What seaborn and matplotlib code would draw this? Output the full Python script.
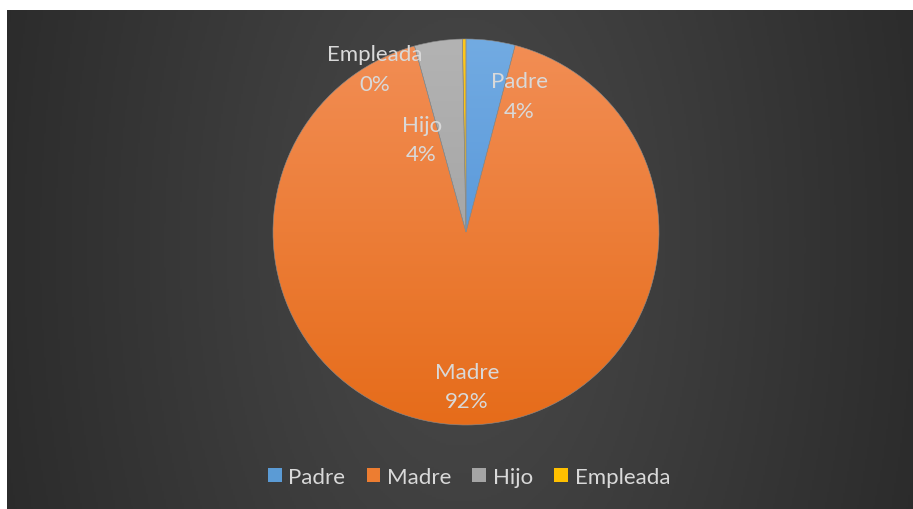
import numpy as np
import matplotlib
matplotlib.use("Agg")
import matplotlib.pyplot as plt
from matplotlib.colors import LinearSegmentedColormap
from matplotlib.patches import Patch
import seaborn as sns

# ---- data ----
categories = ["Padre", "Madre", "Hijo", "Empleada"]
values = [4.1, 91.6, 4.0, 0.3]
pct_labels = ["4%", "92%", "4%", "0%"]

# ---- style ----
sns.set_theme(style="white")
plt.rcParams["font.family"] = ["Lato", "DejaVu Sans"]

top_colors = ["#72abe2", "#f28e55", "#b3b3b3", "#ffc81a"]
bot_colors = ["#4589d4", "#e66c1a", "#9a9a9a", "#f0b400"]
base_colors = ["#5b9bd5", "#ed7d31", "#a5a5a5", "#ffc000"]
text_color = "#d9d9d9"

W, H = 913, 510
fig = plt.figure(figsize=(W / 100, H / 100), dpi=100)
fig.patch.set_facecolor("white")

# background panel with radial gradient
bg = fig.add_axes([7 / W, 0, (W - 7) / W, (H - 11) / H])
bg.set_axis_off()
ny, nx = 250, 450
yy, xx = np.mgrid[0:ny, 0:nx]
cx, cy = nx * 0.5, ny * 0.47
d = np.sqrt(((xx - cx) / (nx * 0.62)) ** 2 + ((yy - cy) / (ny * 0.62 * 906 / 499)) ** 2 * 0.3)
d = np.clip(d, 0, 1)
grad_bg = LinearSegmentedColormap.from_list("bg", ["#4a4a4a", "#262626"])
bg.imshow(d, cmap=grad_bg, aspect="auto", extent=[0, 1, 0, 1], vmin=0, vmax=1)
bg.set_xlim(0, 1)
bg.set_ylim(0, 1)

# pie axes
cxp, cyp, r = 466, 233, 193
ax = fig.add_axes([(cxp - r) / W, (H - cyp - r) / H, 2 * r / W, 2 * r / H])
ax.set_axis_off()
wedges, _ = ax.pie(values, colors=base_colors, startangle=90, counterclock=False,
                   radius=1, wedgeprops=dict(linewidth=0.4, edgecolor="#8c8c8c"))

gy = np.linspace(0, 1, 256).reshape(-1, 1)
for w, tc, bc in zip(wedges, top_colors, bot_colors):
    cm = LinearSegmentedColormap.from_list("g", [tc, bc])
    im = ax.imshow(gy, cmap=cm, extent=[-1, 1, -1, 1], origin="upper", aspect="auto",
                   zorder=w.get_zorder() + 0.1)
    im.set_clip_path(w)
for w in wedges:
    w.set_facecolor("none")
    w.set_zorder(5)
ax.set_xlim(-1, 1)
ax.set_ylim(-1, 1)

# data labels (positions in axes data coords)
label_pos = {
    "Padre": (0.275, 0.705),
    "Madre": (0.005, -0.80),
    "Hijo": (-0.23, 0.48),
    "Empleada": (-0.475, 0.845),
}
for cat, pct in zip(categories, pct_labels):
    x, y = label_pos[cat]
    ax.text(x, y, f"{cat}\n{pct}", ha="center", va="center", color=text_color,
            fontsize=16, linespacing=1.6, zorder=10)

# legend
handles = [Patch(facecolor=c, edgecolor="none") for c in base_colors]
fig.legend(handles, categories, loc="center", bbox_to_anchor=(469 / W, 1 - 478 / H),
           ncol=4, frameon=False, fontsize=16, handlelength=0.62, handleheight=0.62,
           handletextpad=0.3, columnspacing=0.95, labelcolor=text_color)

fig.savefig("out.png", dpi=100, facecolor=fig.get_facecolor())
